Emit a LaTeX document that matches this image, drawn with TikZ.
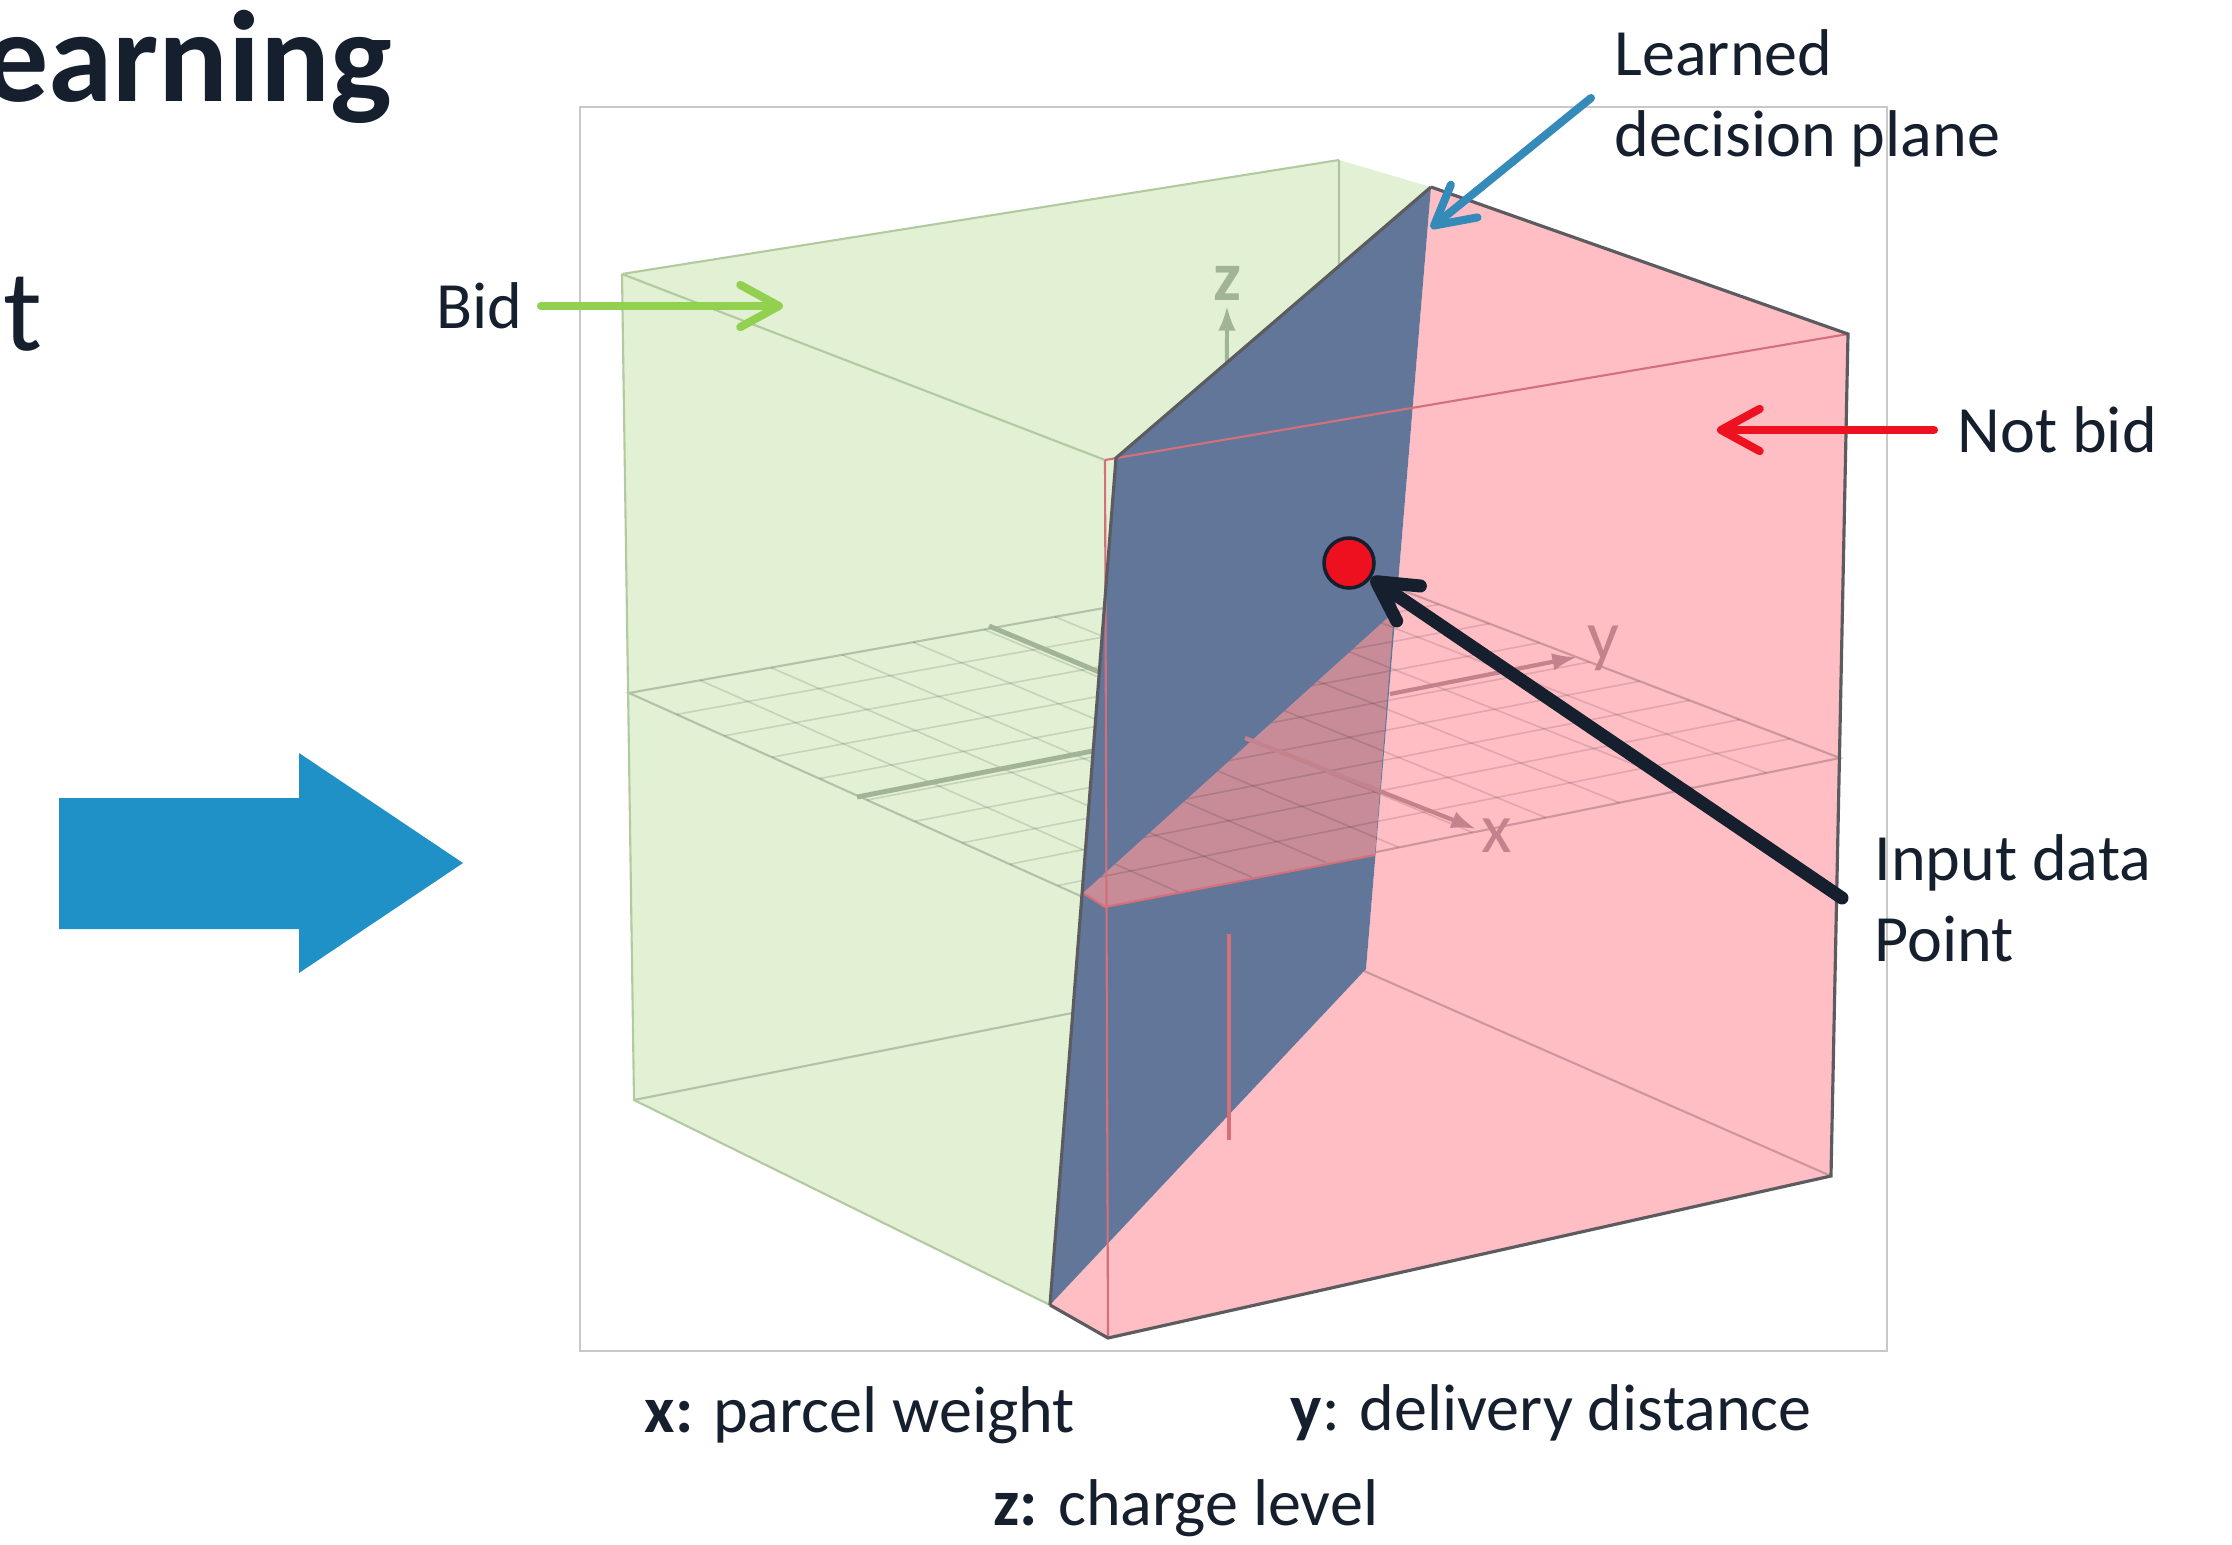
\documentclass[tikz,border=0pt]{standalone}
\usepackage{fontspec}
\setmainfont{Carlito}
\usetikzlibrary{arrows.meta,calc}

\definecolor{ink}{RGB}{22,31,45}
\definecolor{bigblue}{RGB}{31,145,199}
\definecolor{bidgreen}{RGB}{146,208,80}
\definecolor{notbidred}{RGB}{238,18,32}
\definecolor{planeblue}{RGB}{52,139,186}
\definecolor{boxgreen}{RGB}{226,240,211}
\definecolor{boxpink}{RGB}{255,189,196}
\definecolor{greenline}{RGB}{178,202,160}
\definecolor{slate}{RGB}{98,118,154}
\definecolor{overlaypink}{RGB}{199,140,152}
\definecolor{redthin}{RGB}{212,112,122}
\definecolor{edgegray}{RGB}{92,92,96}
\definecolor{axgreen}{RGB}{162,180,150}
\definecolor{axpink}{RGB}{196,130,140}
\definecolor{framegray}{RGB}{200,200,200}
\definecolor{dotred}{RGB}{238,16,30}

\begin{document}
\begin{tikzpicture}[x=0.01cm, y=-0.01cm,
		lbltext/.style={font=\fontsize{18.8}{23}\selectfont, text=ink, inner sep=0pt},
		chevron/.style={-{Straight Barb[length=11pt,width=12pt,round]}, line cap=round, line width=2.3pt},
		greenedge/.style={draw=greenline, line width=0.6pt},
		faintedge/.style={draw=black, draw opacity=0.2, line width=0.6pt},
		gridline/.style={draw=black, draw opacity=0.12, line width=0.45pt},
		darkedge/.style={draw=edgegray, line width=0.9pt},
		rededge/.style={draw=redthin, line width=0.6pt},
		axisgreen/.style={draw=axgreen, line width=1.4pt},
		axispink/.style={draw=axpink, line width=1.2pt, -{Latex[length=7pt,width=5pt]}}]
	\useasboundingbox (0,0) rectangle (2232,1545);

	\coordinate (A) at (622,274);
	\coordinate (B) at (1339,160);
	\coordinate (F) at (1848,334);
	\coordinate (C) at (1105,460);
	\coordinate (D) at (634,1100);
	\coordinate (G) at (1831,1176);
	\coordinate (H) at (1108,1338);
	\coordinate (Bb) at (1339,960);
	\coordinate (P) at (1431,187);
	\coordinate (Q) at (1116,458);
	\coordinate (E) at (1050,1305);
	\coordinate (R) at (1366,969);
	\coordinate (M1) at (629,693);
	\coordinate (Mf) at (1105,907);
	\coordinate (Mr) at (1840,758);
	\coordinate (Mb) at (1339,566);
	\coordinate (O1) at (1083,893);
	\coordinate (O2) at (1394,612);
	\coordinate (O3) at (1375,855);
	\coordinate (O) at (1226,725);

	\node[anchor=base east, inner sep=0pt, font=\fontsize{37}{44}\selectfont\bfseries, text=ink] (title) at (393,101) {Learning};
	\node[anchor=base west, inner sep=0pt, font=\fontsize{33}{40}\selectfont, text=ink] (bullet) at (3,350) {t};
	\fill[bigblue] (59,798) -- (299,798) -- (299,753) -- (463,863) -- (299,973) -- (299,929) -- (59,929) -- cycle;

	\draw[framegray, line width=0.5pt] (580,107) rectangle (1887,1351);
	\fill[boxgreen] (A) -- (B) -- (P) -- (Q) -- (E) -- (D) -- cycle;
	\fill[boxpink] (P) -- (F) -- (G) -- (H) -- (E) -- (R) -- cycle;

	\foreach \t in {0.1,0.2,...,0.9} {
		\draw[gridline] ($(M1)!\t!(Mf)$) -- ($(Mb)!\t!(Mr)$);
		\draw[gridline] ($(M1)!\t!(Mb)$) -- ($(Mf)!\t!(Mr)$);
	}
	\draw[faintedge] (M1) -- (Mb) -- (Mr) -- (Mf) -- cycle;
	\draw[faintedge] (B) -- (Bb) (D) -- (Bb) -- (G);

	\draw[axisgreen] (989,626) -- (O);
	\draw[axisgreen] (857,797) -- (O);
	\draw[axisgreen, line width=1.1pt, -{Latex[length=7pt,width=5pt]}] (O) -- (1227,306);
	\node[font=\fontsize{20}{24}\selectfont\bfseries, text=axgreen, inner sep=0pt] (zname) at (1227,283) {z};

	\draw[greenedge] (A) -- (B) (A) -- (C) (A) -- (D) -- (E);

	\fill[slate] (P) -- (Q) -- (E) -- (R) -- cycle;
	\fill[overlaypink] (O1) -- (O2) -- (O3) -- (Mf) -- cycle;
	\begin{scope}
		\clip (O1) -- (O2) -- (O3) -- (Mf) -- cycle;
		\foreach \t in {0.1,0.2,...,0.9} {
			\draw[gridline] ($(M1)!\t!(Mf)$) -- ($(Mb)!\t!(Mr)$);
			\draw[gridline] ($(M1)!\t!(Mb)$) -- ($(Mf)!\t!(Mr)$);
		}
	\end{scope}
	\draw[rededge] (O1) -- (Mf) -- (O3);

	\draw[rededge] (C) -- (F);
	\draw[rededge] (C) -- (H);
	\draw[redthin, line width=1.1pt] (1229,934) -- (1229,1140);

	\draw[axispink] (1245,738) -- (1476,829);
	\draw[axispink] (1390,694) -- (1577,657);
	\node[font=\fontsize{20}{24}\selectfont, text=axpink, inner sep=0pt] (xname) at (1497,836) {x};
	\node[font=\fontsize{20}{24}\selectfont, text=axpink, inner sep=0pt] (yname) at (1603,648) {y};

	\draw[darkedge] (P) -- (Q) -- (E);
	\draw[darkedge] (P) -- (F) -- (G) -- (H) -- (E);

	\node[lbltext, anchor=east, inner xsep=5pt] (bid) at (541,306) {Bid};
	\coordinate (bidtip) at (783,306);
	\draw[chevron, bidgreen] (bid) -- (bidtip);

	\node[lbltext, anchor=west, inner xsep=6.5pt] (notbid) at (1934,430) {Not bid};
	\coordinate (notbidtip) at (1717,430);
	\draw[chevron, notbidred] (notbid) -- (notbidtip);

	\node[lbltext, anchor=west, inner xsep=6.5pt, align=left] (learned) at (1591,98) {Learned\\decision plane};
	\coordinate (planetip) at (1431,228);
	\draw[chevron, planeblue] (learned.west) -- (planetip);

	\node[circle, fill=dotred, draw=ink, line width=1pt, minimum size=0.5cm, inner sep=0pt] (dot) at (1349,563) {};
	\node[lbltext, anchor=west, inner xsep=9pt, align=left] (inputpt) at (1842,898) {Input data\\Point};
	\draw[chevron, ink, line width=3.7pt] (inputpt.west) -- (dot);

	\node[lbltext, anchor=base west] (xlbl) at (644,1432) {\textbf{x:} parcel weight};
	\node[lbltext, anchor=base west] (ylbl) at (1290,1430) {\textbf{y}: delivery distance};
	\node[lbltext, anchor=base west] (zlbl) at (993,1525) {\textbf{z:} charge level};
\end{tikzpicture}
\end{document}
